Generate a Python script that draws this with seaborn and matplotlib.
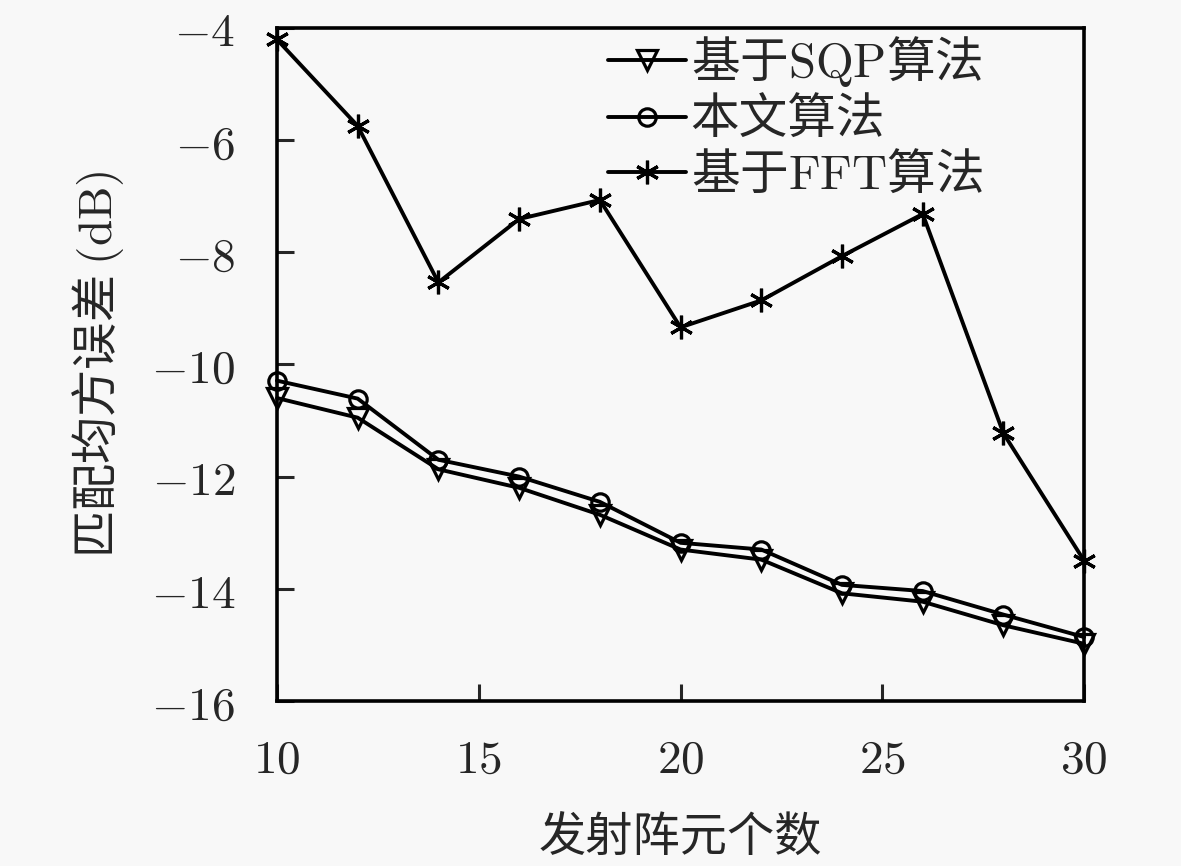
import pandas as pd
import numpy as np
import matplotlib
matplotlib.use("Agg")
import matplotlib.pyplot as plt
import seaborn as sns
from matplotlib.ticker import FuncFormatter

# data
elements = [10, 12, 14, 16, 18, 20, 22, 24, 26, 28, 30]
sqp_err = [-10.6, -10.95, -11.87, -12.2, -12.68, -13.3, -13.48, -14.08, -14.23, -14.65, -14.98]
ours_err = [-10.29, -10.61, -11.7, -12.0, -12.45, -13.18, -13.3, -13.93, -14.04, -14.46, -14.86]
fft_err = [-4.21, -5.75, -8.54, -7.41, -7.07, -9.34, -8.86, -8.07, -7.32, -11.23, -13.5]

labels = [r"基于$\mathrm{SQP}$算法", "本文算法", r"基于$\mathrm{FFT}$算法"]
markers = ["v", "o", (6, 2, 0)]
msizes = [14, 12.5, 17]

sns.set_style("ticks")
plt.rcParams["font.family"] = ["Noto Sans CJK SC", "DejaVu Sans"]
plt.rcParams["mathtext.fontset"] = "cm"

df = pd.DataFrame({
    "x": elements * 3,
    "y": sqp_err + ours_err + fft_err,
    "method": [labels[0]] * len(elements) + [labels[1]] * len(elements) + [labels[2]] * len(elements),
})

fig = plt.figure(figsize=(11.81, 8.66), dpi=100, facecolor="#f8f8f8")
ax = fig.add_axes([0.2345, 0.1905, 0.6835, 0.7775])
ax.set_facecolor("#f8f8f8")

for lab, mk, ms in zip(labels, markers, msizes):
    sub = df[df["method"] == lab]
    sns.lineplot(data=sub, x="x", y="y", ax=ax, color="black", linewidth=2.8,
                 marker=mk, markersize=ms,
                 markerfacecolor="none" if mk != (6, 2, 0) else "black",
                 markeredgecolor="black", markeredgewidth=2.3, label=lab,
                 clip_on=False, zorder=3)

ax.set_xlim(10, 30)
ax.set_ylim(-16, -4)
ax.set_xticks([10, 15, 20, 25, 30])
ax.set_yticks([-16, -14, -12, -10, -8, -6, -4])
ax.xaxis.set_major_formatter(FuncFormatter(lambda v, p: r"$%d$" % v))
ax.yaxis.set_major_formatter(FuncFormatter(lambda v, p: r"$%d$" % v))
ax.tick_params(direction="in", length=12, width=2.2, labelsize=34)
ax.tick_params(axis="y", pad=30)
ax.tick_params(axis="x", pad=25)
for s in ax.spines.values():
    s.set_linewidth(2.6)
    s.set_color("black")

ax.set_xlabel("发射阵元个数", fontsize=34, labelpad=22)
ax.set_ylabel(r"匹配均方误差 $(\mathrm{dB})$", fontsize=34, labelpad=18)

ax.legend(loc="upper left", bbox_to_anchor=(0.41, 0.99), frameon=False,
          fontsize=35, handlelength=1.6, handletextpad=0.1, labelspacing=0.12,
          borderpad=0, borderaxespad=0)

fig.savefig("out.png", dpi=100, facecolor=fig.get_facecolor())
